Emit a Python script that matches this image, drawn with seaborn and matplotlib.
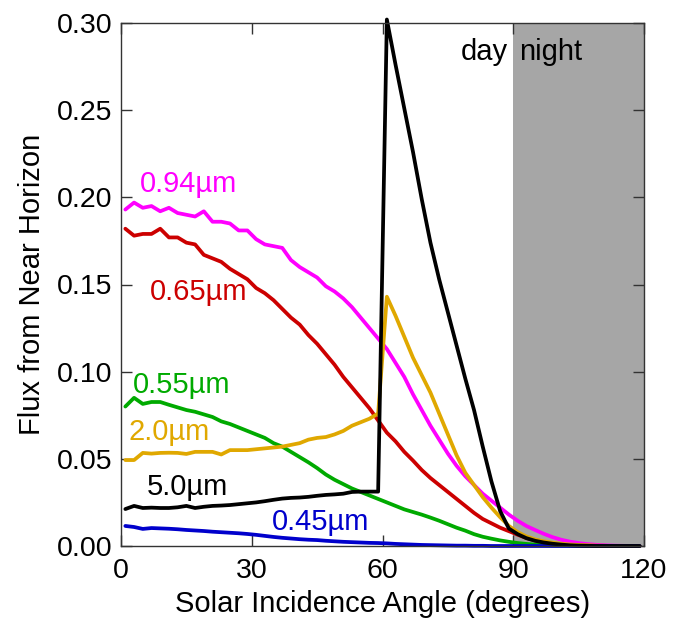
import numpy as np
import pandas as pd
import matplotlib
matplotlib.use("Agg")
import matplotlib.pyplot as plt
import seaborn as sns

# Solar incidence angle grid (degrees)
angle = list(range(1, 120, 2))

flux_094 = [0.193, 0.197, 0.194, 0.195, 0.192, 0.194, 0.191, 0.190, 0.189, 0.192,
            0.186, 0.186, 0.185, 0.181, 0.181, 0.176, 0.173, 0.172, 0.171, 0.164,
            0.160, 0.157, 0.154, 0.149, 0.146, 0.142, 0.137, 0.131, 0.125, 0.119,
            0.113, 0.105, 0.097, 0.087, 0.078, 0.069, 0.061, 0.053, 0.046, 0.040,
            0.035, 0.030, 0.026, 0.022, 0.018, 0.0145, 0.0115, 0.0092, 0.0070, 0.0051,
            0.0036, 0.0025, 0.0017, 0.0011, 0.0007, 0.0004, 0.0002, 0.0001, 0.00005, 0.0]

flux_065 = [0.182, 0.178, 0.179, 0.179, 0.182, 0.177, 0.177, 0.174, 0.173, 0.167,
            0.165, 0.163, 0.159, 0.156, 0.153, 0.148, 0.145, 0.141, 0.136, 0.131,
            0.127, 0.121, 0.116, 0.110, 0.104, 0.097, 0.091, 0.085, 0.079, 0.072,
            0.065, 0.060, 0.054, 0.049, 0.0436, 0.039, 0.035, 0.031, 0.027, 0.023,
            0.019, 0.0155, 0.013, 0.0105, 0.0085, 0.0065, 0.0046, 0.0032, 0.0021, 0.0013,
            0.0008, 0.0005, 0.0003, 0.0002, 0.0001, 0.0001, 0.0, 0.0, 0.0, 0.0]

flux_055 = [0.080, 0.085, 0.0815, 0.0826, 0.0826, 0.081, 0.0795, 0.078, 0.077, 0.0755,
            0.074, 0.0715, 0.070, 0.068, 0.066, 0.064, 0.062, 0.059, 0.057, 0.054,
            0.051, 0.048, 0.0447, 0.041, 0.038, 0.0355, 0.033, 0.031, 0.029, 0.027,
            0.025, 0.023, 0.021, 0.0195, 0.018, 0.0163, 0.0145, 0.0125, 0.0105, 0.0088,
            0.0068, 0.0053, 0.0042, 0.0032, 0.0024, 0.0017, 0.0012, 0.0008, 0.0005, 0.0003,
            0.0002, 0.0001, 0.0001, 0.0, 0.0, 0.0, 0.0, 0.0, 0.0, 0.0]

flux_20 = [0.0493, 0.0493, 0.0534, 0.053, 0.0534, 0.0535, 0.0534, 0.0528, 0.054, 0.054,
           0.054, 0.0525, 0.055, 0.055, 0.055, 0.0555, 0.056, 0.0565, 0.057, 0.058,
           0.059, 0.061, 0.062, 0.0625, 0.064, 0.066, 0.069, 0.071, 0.073, 0.076,
           0.143, 0.132, 0.120, 0.108, 0.098, 0.088, 0.076, 0.064, 0.052, 0.042,
           0.035, 0.028, 0.022, 0.0165, 0.0115, 0.008, 0.0055, 0.0038, 0.0027, 0.0019,
           0.0013, 0.0009, 0.0006, 0.0004, 0.0002, 0.0001, 0.0, 0.0, 0.0, 0.0]

flux_50 = [0.0212, 0.023, 0.0218, 0.022, 0.0218, 0.0218, 0.0222, 0.023, 0.0218, 0.0225,
           0.023, 0.0232, 0.0235, 0.024, 0.0245, 0.025, 0.0257, 0.0265, 0.0272, 0.0276,
           0.0278, 0.0282, 0.0288, 0.0293, 0.0296, 0.030, 0.031, 0.0312, 0.0312, 0.0312,
           0.302, 0.276, 0.251, 0.226, 0.199, 0.174, 0.153, 0.134, 0.115, 0.096,
           0.078, 0.057, 0.037, 0.020, 0.010, 0.0068, 0.0045, 0.003, 0.002, 0.0013,
           0.0008, 0.0004, 0.0002, 0.0001, 0.0, 0.0, 0.0, 0.0, 0.0, 0.0]

flux_045 = [0.0115, 0.0109, 0.0098, 0.0103, 0.0101, 0.0099, 0.0096, 0.0092, 0.0089, 0.0086,
            0.0082, 0.0079, 0.0076, 0.0073, 0.0069, 0.0064, 0.0058, 0.0052, 0.0047, 0.0043,
            0.0039, 0.0036, 0.0034, 0.0030, 0.0027, 0.0024, 0.0022, 0.0020, 0.0018, 0.0017,
            0.0015, 0.0012, 0.0010, 0.0008, 0.0006, 0.0005, 0.0004, 0.0003, 0.0002, 0.0002,
            0.0001, 0.0001, 0.0, 0.0, 0.0, 0.0, 0.0, 0.0, 0.0, 0.0,
            0.0, 0.0, 0.0, 0.0, 0.0, 0.0, 0.0, 0.0, 0.0, 0.0]

series_names = ["0.94µm", "0.65µm", "0.55µm", "2.0µm", "0.45µm", "5.0µm"]
series_values = [flux_094, flux_065, flux_055, flux_20, flux_045, flux_50]
series_colors = ["#ff00ff", "#cc0000", "#00aa00", "#e0a800", "#0000cc", "#000000"]

# label positions (x left, y center) in data units
label_x = [4.4, 6.6, 2.7, 1.8, 34.6, 6.0]
label_y = [0.2077, 0.1457, 0.0924, 0.0654, 0.0138, 0.0339]

sns.set_style("ticks")
plt.rcParams["font.family"] = ["Liberation Sans", "DejaVu Sans"]
plt.rcParams["text.color"] = "black"
plt.rcParams["axes.labelcolor"] = "black"
plt.rcParams["xtick.color"] = "black"
plt.rcParams["ytick.color"] = "black"

fig = plt.figure(figsize=(6.88, 6.22), dpi=100)
ax = fig.add_axes([121 / 688, 1 - 546 / 622, (644 - 121) / 688, (546 - 23) / 622])

ax.axvspan(90, 120, color="#a6a6a6", lw=0, zorder=0)

for name, vals, col in zip(series_names, series_values, series_colors):
    df = pd.DataFrame({"angle": angle, "flux": vals})
    sns.lineplot(data=df, x="angle", y="flux", color=col, lw=2.7, ax=ax,
                 sort=False, estimator=None, clip_on=False, zorder=3)

for name, col, lx, ly in zip(series_names, series_colors, label_x, label_y):
    ax.text(lx, ly, name, color=col, fontsize=21, ha="left", va="center")

ax.text(88.8, 0.2788, "day", fontsize=21, ha="right", va="baseline", color="black")
ax.text(91.3, 0.2788, "night", fontsize=21, ha="left", va="baseline", color="black")

ax.set_xlim(0, 120)
ax.set_ylim(0, 0.30)
ax.set_xticks([0, 30, 60, 90, 120])
ax.set_yticks([0, 0.05, 0.10, 0.15, 0.20, 0.25, 0.30])
ax.set_yticklabels(["0.00", "0.05", "0.10", "0.15", "0.20", "0.25", "0.30"])
ax.tick_params(axis="both", direction="in", length=8, width=1, labelsize=20.5,
               top=True, right=True, color="#333333", labelcolor="black")
ax.tick_params(axis="x", pad=9)
ax.tick_params(axis="y", pad=6)
for s in ax.spines.values():
    s.set_visible(True)
    s.set_linewidth(1.0)
    s.set_color("#333333")
    s.set_zorder(4)

ax.set_xlabel("Solar Incidence Angle (degrees)", fontsize=21, labelpad=4, color="black")
ax.set_ylabel("Flux from Near Horizon", fontsize=21, labelpad=8, color="black")

fig.savefig("out.png", dpi=100)
